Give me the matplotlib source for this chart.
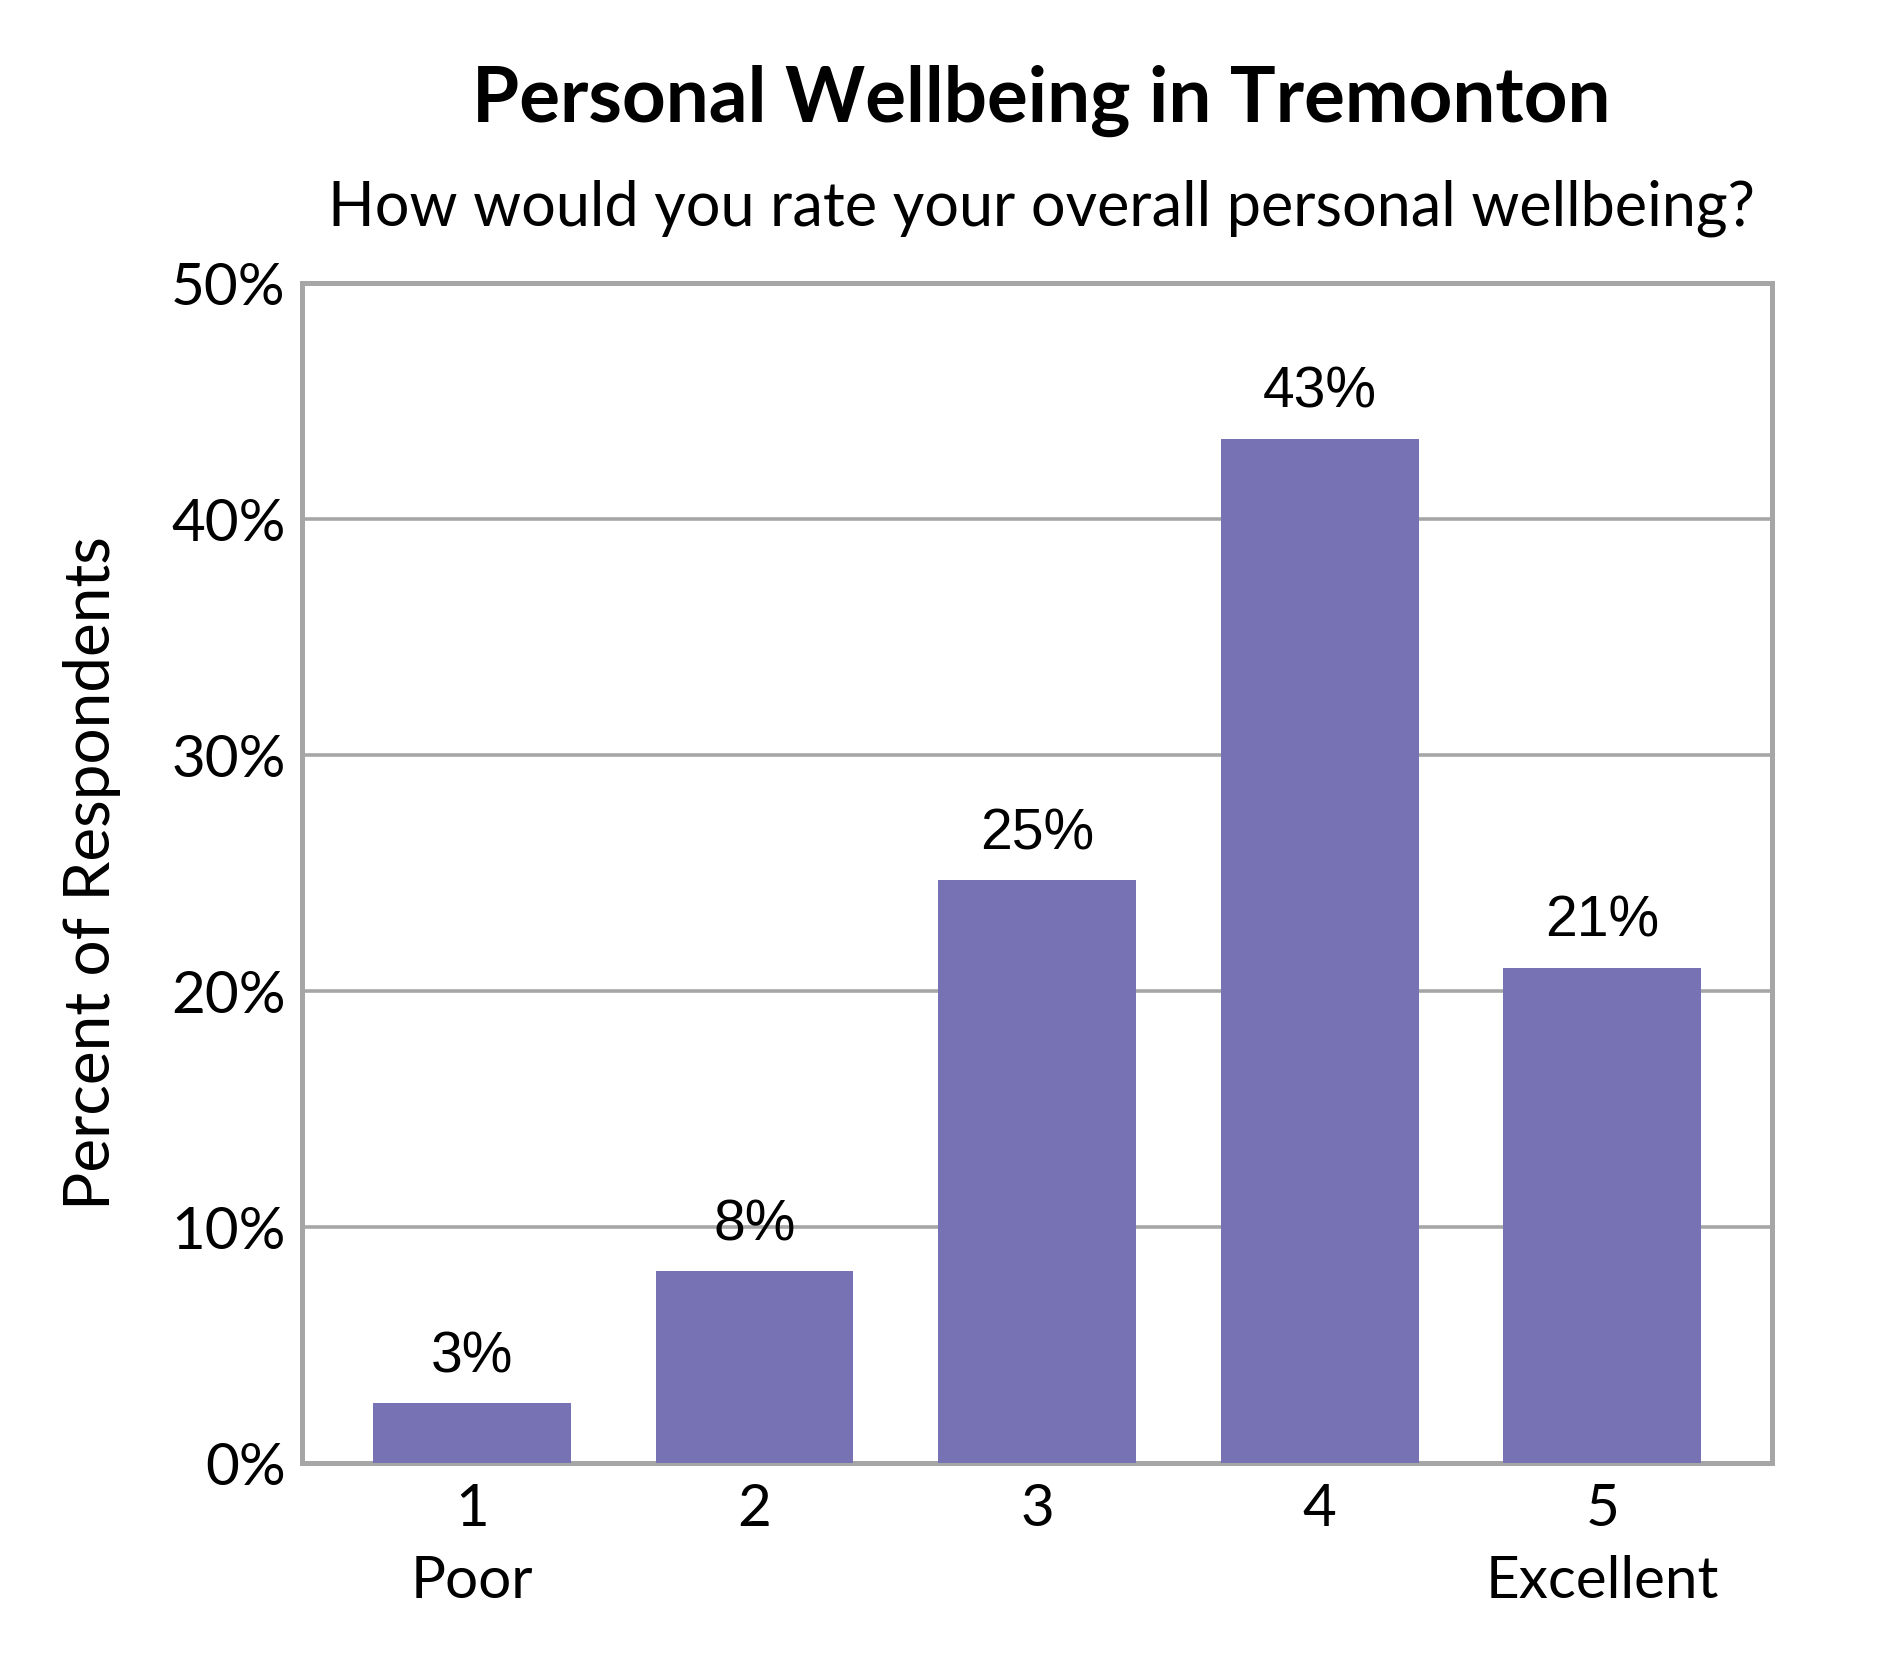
import matplotlib
matplotlib.use("Agg")
import matplotlib.pyplot as plt
from matplotlib.ticker import FuncFormatter

# survey results, percent of respondents
categories = ["1\nPoor", "2", "3", "4", "5\nExcellent"]
values = [2.55, 8.15, 24.7, 43.4, 21.0]
value_labels = ["3%", "8%", "25%", "43%", "21%"]

title = "Personal Wellbeing in Tremonton"
subtitle = "How would you rate your overall personal wellbeing?"
ylabel = "Percent of Respondents"

bar_color = "#7672B3"
grid_color = "#A6A6A6"
ui_font = ["Lato", "DejaVu Sans"]

fig = plt.figure(figsize=(18.9, 16.8), dpi=100)
ax = fig.add_axes([0.160, 0.129, 0.7775, 0.7025])

x = list(range(len(categories)))
bars = ax.bar(x, values, width=0.7, color=bar_color, zorder=3)

for b, lab in zip(bars, value_labels):
    ax.text(b.get_x() + b.get_width() / 2, b.get_height() + 0.8, lab,
            ha="center", va="bottom", fontsize=41,
            family=["Liberation Sans", "DejaVu Sans"], zorder=4)

ax.set_xlim(-0.6, 4.6)
ax.set_ylim(0, 50)
ax.set_yticks([0, 10, 20, 30, 40, 50])
ax.yaxis.set_major_formatter(FuncFormatter(lambda v, p: f"{int(v)}%"))
ax.set_xticks(x)
ax.set_xticklabels(categories, family=ui_font, fontsize=42, linespacing=1.45)
for t in ax.get_yticklabels():
    t.set_family(ui_font)
    t.set_fontsize(42)
ax.tick_params(axis="both", length=0)
ax.tick_params(axis="x", pad=14)
ax.tick_params(axis="y", pad=12)

ax.yaxis.grid(True, color=grid_color, linewidth=2.6, zorder=0)
for s in ax.spines.values():
    s.set_color(grid_color)
    s.set_linewidth(3.6)

ax.set_ylabel(ylabel, family=ui_font, fontsize=46, labelpad=36)

fig.text(0.551, 0.940, title, ha="center", va="center", fontsize=55,
         fontweight="bold", family=ui_font)
fig.text(0.551, 0.876, subtitle, ha="center", va="center", fontsize=44,
         family=ui_font)

fig.savefig("out.png", dpi=100, facecolor="white")
